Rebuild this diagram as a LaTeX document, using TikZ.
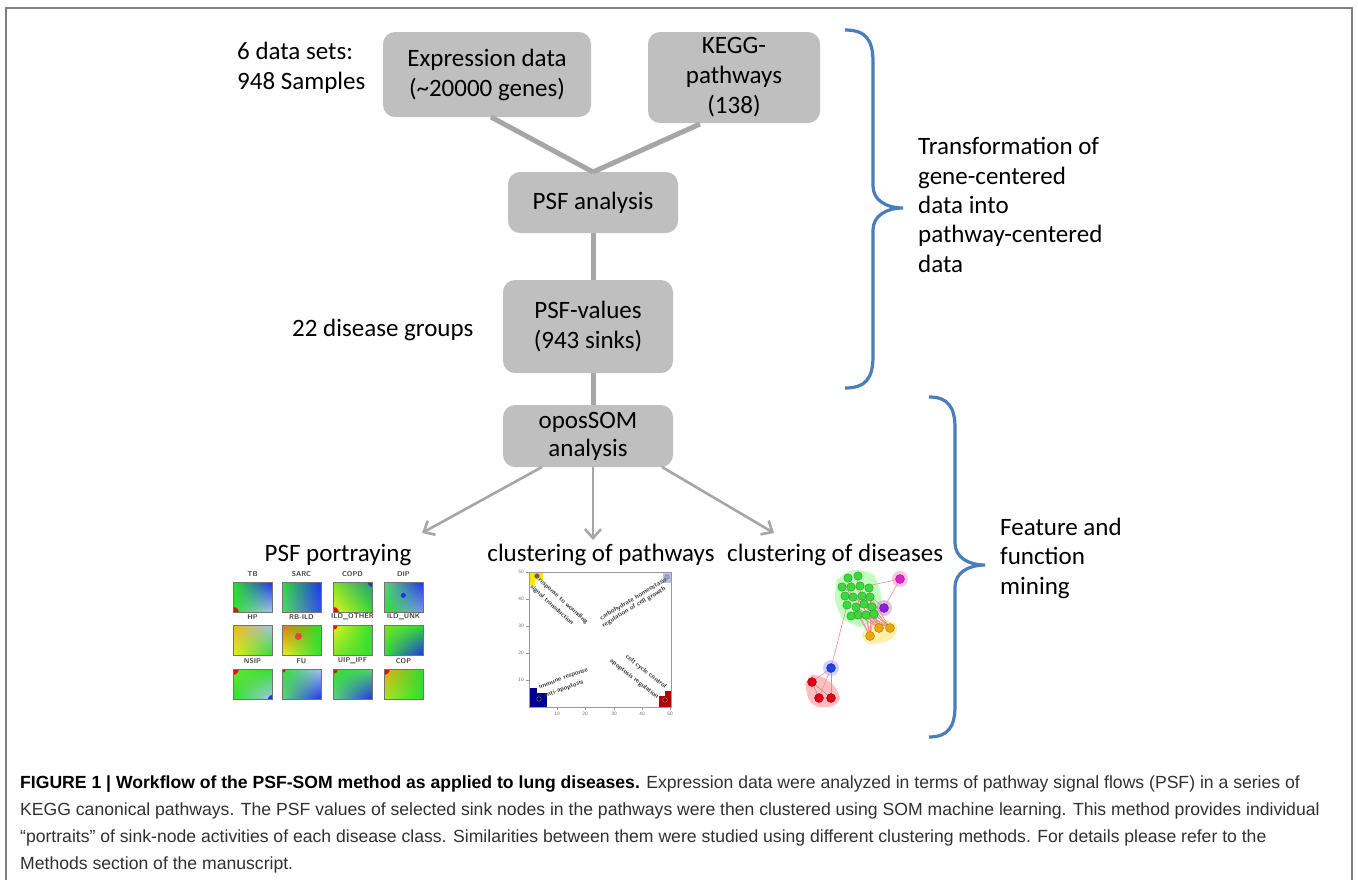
\documentclass[tikz,border=0pt]{standalone}
\usepackage{fontspec}
\setmainfont{Carlito}
\newfontfamily\capfont{Liberation Sans}
\usetikzlibrary{arrows.meta,calc,shadings,fadings}

\definecolor{boxgray}{HTML}{BFBFBF}
\definecolor{linkgray}{HTML}{A6A6A6}
\definecolor{framegray}{HTML}{808080}
\definecolor{bracecol}{HTML}{4A7EBB}
\definecolor{hgreen}{HTML}{2EE02E}
\definecolor{hblue}{HTML}{1E32F0}
\definecolor{hlblue}{HTML}{A8C4F0}
\definecolor{hyellow}{HTML}{E8F020}
\definecolor{hred}{HTML}{E01010}
\definecolor{horange}{HTML}{F08C10}
\definecolor{capgray}{HTML}{303030}
\definecolor{edgepink}{HTML}{F08C8C}
\definecolor{netgreen}{HTML}{3CD83C}
\definecolor{netmag}{HTML}{E020C8}
\definecolor{netpur}{HTML}{8A20E0}
\definecolor{netorange}{HTML}{E8A810}
\definecolor{netblue}{HTML}{2040E8}
\definecolor{netred}{HTML}{E00018}

\tikzset{
  stepbox/.style={fill=boxgray, rounded corners=12pt, inner sep=0pt,
    align=center, font=\fontsize{25}{30}\selectfont},
  link/.style={draw=linkgray, line width=5pt},
  flowarrow/.style={draw=linkgray, line width=2.6pt,
    -{Straight Barb[length=9pt,width=16pt,line width=2.6pt]}},
  plain/.style={inner sep=0pt, font=\fontsize{25}{30}\selectfont, align=left},
  brace/.style={draw=bracecol, line width=3.2pt},
  cellname/.style={inner sep=0pt, font=\sffamily\bfseries\fontsize{7}{8}\selectfont, text=black!75},
  tick/.style={inner sep=0pt, font=\sffamily\fontsize{5}{6}\selectfont, text=black!60},
  ptext/.style={inner sep=0pt, font=\sffamily\bfseries\fontsize{6.5}{7.5}\selectfont, text=black!80},
  captext/.style={anchor=base west, inner sep=0pt, text=capgray,
    font=\capfont\fontsize{17.6}{20}\selectfont},
  gnode/.style={circle, fill=#1, draw=#1!70!black, line width=0.4pt, minimum size=9pt, inner sep=0pt},
}

% one SOM portrait: left, top, name, UL, UR, LL, LR, extra spots
\newcommand{\somcell}[8]{%
  \shade[upper left=#4, upper right=#5, lower left=#6, lower right=#7]
    (#1,#2) rectangle ++(39,30);
  \begin{scope}
    \clip (#1,#2) rectangle ++(39,30);
    #8
  \end{scope}
  \draw[black!55, line width=0.6pt] (#1,#2) rectangle ++(39,30);
  \node[cellname] at ($(#1,#2)+(19.5,-8)$) {#3};
}
\newcommand{\hotspot}[4]{% x, y, colour, radius
  \fill[#3, path fading=circle with fuzzy edge 20 percent] (#1,#2) circle (#4);}

\begin{document}
\begin{tikzpicture}[x=1pt,y=-1pt]
\useasboundingbox (0,0) rectangle (1358,879);

% frame
\draw[framegray, line width=1.3pt] (6,890) -- (6,8) -- (1352,8) -- (1352,890);

% ---------- workflow boxes ----------
\node[stepbox, minimum width=208pt, minimum height=85pt] (expr) at (487,74.5)
  {Expression data\\(\textasciitilde20000 genes)};
\node[stepbox, minimum width=172pt, minimum height=91pt] (kegg) at (734,77.5)
  {KEGG-\\pathways\\(138)};
\node[stepbox, minimum width=170pt, minimum height=61pt] (psfa) at (593,202.5)
  {PSF analysis};
\node[stepbox, minimum width=170pt, minimum height=93pt] (psfv) at (588,326.5)
  {PSF-values\\(943 sinks)};
\node[stepbox, minimum width=170pt, minimum height=62pt, font=\fontsize{25}{28}\selectfont] (opos) at (588,436)
  {oposSOM\\analysis};

\node[plain, anchor=west] (sets) at (237,68) {6 data sets:\\948 Samples};
\node[plain, anchor=west] (groups) at (292,330) {22 disease groups};

% connectors
\coordinate (join) at (593,172);
\coordinate (exprfoot) at (491,117);
\coordinate (keggfoot) at (700,124);
\draw[link] (exprfoot) -- (join);
\draw[link] (keggfoot) -- (join);
\draw[link] (psfa.south) -- (psfv.north -| psfa.south);
\draw[link] (psfv.south -| psfa.south) -- (opos.north -| psfa.south);

% panel titles
\node[plain, anchor=base] (portray) at (338,561) {PSF portraying};
\node[plain, anchor=base] (clpath) at (601,561) {clustering of pathways};
\node[plain, anchor=base west] (cldis) at (727,561) {clustering of diseases};

\coordinate (a1s) at (542,467);
\coordinate (a2s) at (593,467);
\coordinate (a3s) at (662,467);
\coordinate (a1e) at (422,533);
\coordinate (a2e) at (593,540);
\coordinate (a3e) at (774,533);
\draw[flowarrow] (a1s) -- (a1e);
\draw[flowarrow] (a2s) -- (a2e);
\draw[flowarrow] (a3s) -- (a3e);

% ---------- braces ----------
\draw[brace] (845,30) .. controls (866,30) and (873,40) .. (873,62)
  -- (873,186) .. controls (873,200) and (886,208) .. (903,208)
  .. controls (886,208) and (873,216) .. (873,230)
  -- (873,356) .. controls (873,378) and (866,388) .. (845,388);
\draw[brace] (929,397) .. controls (948,397) and (955,407) .. (955,428)
  -- (955,543) .. controls (955,557) and (968,565) .. (985,565)
  .. controls (968,565) and (955,573) .. (955,587)
  -- (955,706) .. controls (955,727) and (948,737) .. (929,737);

\node[plain, anchor=west, font=\fontsize{25}{29.3}\selectfont] (transf) at (918,205)
  {Transformation of\\gene-centered\\data into\\pathway-centered\\data};
\node[plain, anchor=west, font=\fontsize{25}{29.5}\selectfont] (mining) at (1000,558)
  {Feature and\\function\\mining};

% ---------- SOM portraits ----------
\somcell{233}{582}{TB}{hgreen}{hblue}{hgreen}{hlblue}{\hotspot{233}{612}{hred}{6}}
\somcell{282}{582}{SARC}{hgreen}{hblue}{hgreen!70!hlblue}{hblue!80!hlblue}{}
\somcell{333}{582}{COPD}{hgreen!60!hyellow}{hgreen!60!hblue}{hyellow}{hgreen}{\hotspot{333}{612}{hred}{6}\hotspot{372}{582}{hblue}{5}}
\somcell{384}{582}{DIP}{hgreen!60!hlblue}{hblue}{hgreen}{hlblue!70!hblue}{\hotspot{403}{595}{hblue}{3}}
\somcell{233}{625}{HP}{horange!60!hyellow}{hlblue}{hyellow}{hgreen}{}
\somcell{282}{625}{RB-ILD}{horange!80!hred}{hgreen}{hyellow}{hgreen}{\hotspot{298}{636}{hred!80}{4}}
\somcell{333}{625}{ILD\_OTHER}{hyellow}{hgreen}{hgreen!60!hyellow}{hgreen}{\hotspot{333}{625}{hred}{5}}
\somcell{384}{625}{ILD\_UNK}{hyellow!40!hgreen}{hgreen}{hgreen}{hblue}{}
\somcell{233}{669}{NSIP}{hgreen!70!hyellow}{hgreen}{hgreen}{hlblue}{\hotspot{233}{669}{hred}{6}\hotspot{272}{699}{hblue}{5}}
\somcell{282}{669}{FU}{hgreen}{hlblue}{hgreen!60!hlblue}{hblue}{\hotspot{282}{669}{hred}{4}}
\somcell{333}{669}{UIP\_IPF}{hgreen}{hgreen!70!hlblue}{hgreen!60!hlblue}{hblue}{\hotspot{333}{669}{hred}{5}}
\somcell{384}{669}{COP}{horange!70!hyellow}{hgreen}{hyellow!60!hgreen}{hgreen}{\hotspot{384}{669}{hred}{6}}

% ---------- pathway clustering plot ----------
\begin{scope}
  \fill[yellow!90!orange] (529,572) rectangle (543,580);
  \fill[yellow!90!orange] (529,572) rectangle (535,585);
  \fill[cyan!15!blue!25] (663,572) rectangle (671,583);
  \fill[blue!55!black] (529,693) rectangle (547,707);
  \fill[blue!55!black] (529,688) rectangle (537,707);
  \fill[red!70!black] (659,696) rectangle (671,707);
  \fill[red!70!black] (665,691) rectangle (671,707);
  \draw[black!70, fill=black!60, line width=0.3pt] (537,576) circle (2.3);
  \draw[black!60, fill=cyan!30!blue!40, line width=0.3pt] (667,577) circle (2.3);
  \draw[white!70!black, fill=blue!40!black, line width=0.3pt] (539,699) circle (2.3);
  \draw[white!70!black, fill=red!60!black, line width=0.3pt] (665,700) circle (2.3);
  \draw[black!40, line width=0.6pt] (529,572) rectangle (671,707);
  \foreach \v/\yy in {10/680,20/653,30/626,40/599,50/572}{
    \draw[black!40, line width=0.4pt] (526,\yy) -- (529,\yy);
    \node[tick, anchor=east] at (524,\yy) {\v};
  }
  \foreach \v/\xx in {10/557,20/585,30/614,40/642,50/670}{
    \draw[black!40, line width=0.4pt] (\xx,707) -- (\xx,710);
    \node[tick, anchor=north] at (\xx,712) {\v};
  }
  \node[ptext, rotate=-42, anchor=north west] (pl1) at (541,577) {response to wounding};
  \node[ptext, rotate=-42, anchor=north west] (pl2) at (533,584) {signal transduction};
  \node[ptext, rotate=31, anchor=south east] (pl3) at (668,582) {carbohydrate homeostasis};
  \node[ptext, rotate=31, anchor=south east] (pl4) at (667,591) {regulation of cell growth};
  \node[ptext, rotate=20, anchor=south west] (pl5) at (540,690) {immune response};
  \node[ptext, rotate=20, anchor=south west] (pl6) at (545,699) {anti-apoptosis};
  \node[ptext, rotate=-38, anchor=south east] (pl7) at (664,690) {cell cycle control};
  \node[ptext, rotate=-38, anchor=south east] (pl8) at (656,700) {apoptosis regulation};
\end{scope}

% ---------- disease network ----------
\fill[green!55, opacity=0.45, rounded corners=14pt]
  (840,572) -- (868,568) -- (880,582) -- (882,612) -- (870,628) -- (850,626) -- (836,612) -- (834,586) -- cycle;
\fill[yellow!70!orange, opacity=0.35, rounded corners=8pt]
  (862,630) -- (878,619) -- (898,622) -- (896,638) -- (874,645) -- (862,642) -- cycle;
\fill[red!50, opacity=0.5, rounded corners=10pt]
  (806,676) -- (818,673) -- (840,690) -- (840,706) -- (812,708) -- (805,690) -- cycle;
\fill[magenta!40, opacity=0.6] (900,579) circle (8);
\fill[violet!40, opacity=0.6] (884,608) circle (8);
\fill[blue!30, opacity=0.6] (831,668) circle (8);

\begin{scope}[edgepink, line width=0.6pt]
  \draw (900,579) -- (872,585);
  \draw (900,579) -- (884,608);
  \draw (884,608) -- (870,596);
  \draw (884,608) -- (872,606);
  \draw (847,605) -- (831,668);
  \foreach \g in {(856,607),(864,604),(872,607),(858,615),(866,615),(874,614),(862,596),(870,596)}{
    \draw \g -- (879,628);
    \draw \g -- (890,628);
    \draw \g -- (870,636);
  }
  \draw (848,578) -- (862,596) -- (851,616) -- (870,596) -- (845,596) -- (872,607);
  \draw (856,576) -- (864,604) -- (842,586) -- (874,614);
  \draw (831,668) -- (812,682);
  \draw (831,668) -- (819,698);
  \draw (831,668) -- (831,698);
\end{scope}
\draw[black!50, line width=0.4pt] (812,682) -- (819,698) -- (831,698) -- (812,682);

\foreach \p [count=\i] in {(848,578),(858,576),(842,587),(851,587),(860,586),(869,588),
  (845,596),(853,597),(862,596),(870,597),(847,605),(856,607),(864,604),(872,607),
  (858,615),(866,615),(874,614),(851,616)}{
  \node[gnode=netgreen, minimum size=8.5pt] (g\i) at \p {};
}
\node[gnode=netmag] (mag) at (900,579) {};
\node[gnode=netpur] (pur) at (884,608) {};
\node[gnode=netorange] (or1) at (879,628) {};
\node[gnode=netorange] (or2) at (890,628) {};
\node[gnode=netorange] (or3) at (870,636) {};
\node[gnode=netblue] (blu) at (831,668) {};
\node[gnode=netred] (rd1) at (812,682) {};
\node[gnode=netred] (rd2) at (819,698) {};
\node[gnode=netred] (rd3) at (831,698) {};

% ---------- caption ----------
\node[captext] (cap1) at (20,788) {\textbf{\color{black}FIGURE 1 | Workflow of the PSF-SOM method as applied to lung diseases.} Expression data were analyzed in terms of pathway signal flows (PSF) in a series of};
\node[captext] (cap2) at (20,815) {KEGG canonical pathways. The PSF values of selected sink nodes in the pathways were then clustered using SOM machine learning. This method provides individual};
\node[captext] (cap3) at (20,842) {\textquotedblleft portraits\textquotedblright\ of sink-node activities of each disease class. Similarities between them were studied using different clustering methods. For details please refer to the};
\node[captext] (cap4) at (20,869) {Methods section of the manuscript.};
\end{tikzpicture}
\end{document}
